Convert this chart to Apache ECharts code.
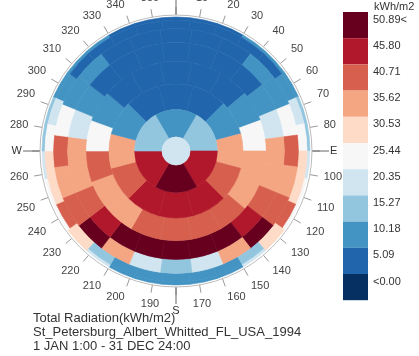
<!DOCTYPE html>
<html>
<head>
<meta charset="utf-8">
<script src="https://cdn.jsdelivr.net/npm/echarts@6/dist/echarts.min.js"></script>
<style>
  html, body { margin: 0; padding: 0; background: #fff; }
  #chart { width: 419px; height: 356px; }
</style>
</head>
<body>
<div id="chart"></div>
<script>
// Tregenza sky patches: altitude bands (deg) from horizon up to zenith
const ringAltitudes = [0, 12, 24, 36, 48, 60, 72, 84, 90]
const ringCounts = [30, 30, 24, 24, 18, 12, 6, 1]

// total radiation per patch (kWh/m2), azimuth order clockwise from north
const ring0 = [8, 8, 8, 13, 13, 13, 18, 18, 23, 28, 28, 33, 23, 13, 13, 13, 13, 13, 23, 33, 28, 28, 23, 18, 18, 13, 13, 13, 8, 8]
const ring1 = [8, 8, 8, 8, 8, 13, 23, 28, 33, 33, 43, 33, 18, 13, 13, 13, 13, 13, 18, 33, 43, 33, 33, 28, 23, 13, 8, 8, 8, 8]
const ring2 = [8, 8, 8, 13, 13, 28, 43, 38, 43, 54, 38, 23, 18, 23, 38, 54, 43, 38, 43, 28, 13, 13, 8, 8]
const ring3 = [8, 8, 8, 8, 13, 23, 38, 38, 43, 48, 54, 54, 54, 54, 54, 48, 43, 38, 38, 23, 13, 8, 8, 8]
const ring4 = [8, 8, 8, 13, 28, 38, 38, 43, 43, 43, 43, 38, 38, 43, 28, 13, 8, 8]
const ring5 = [8, 8, 13, 38, 43, 48, 48, 48, 43, 38, 13, 8]
const ring6 = [13, 18, 48, 54, 48, 18]
const zenith = [23]

// legend
const legendBreaks = [5.09, 10.18, 15.27, 20.35, 25.44, 30.53, 35.62, 40.71, 45.80, 50.89]
const legendLabels = ['<0.00', '5.09', '10.18', '15.27', '20.35', '25.44', '30.53', '35.62', '40.71', '45.80', '50.89<']
const legendColors = ['#053061', '#2166ac', '#4393c3', '#92c5de', '#d1e5f0', '#f7f7f7',
  '#fddbc7', '#f4a582', '#d6604d', '#b2182b', '#67001f']

const directions = { 0: 'N', 90: 'E', 180: 'S', 270: 'W' }

const rings = [ring0, ring1, ring2, ring3, ring4, ring5, ring6, zenith]
const patches = []
rings.forEach((vals, i) => {
  const step = 360 / ringCounts[i]
  // orthographic dome: radius = cos(altitude)
  const rOut = Math.cos(ringAltitudes[i] * Math.PI / 180)
  const rIn = Math.cos(ringAltitudes[i + 1] * Math.PI / 180)
  vals.forEach((v, k) => {
    const a0 = k * step - step / 2
    patches.push([rIn, rOut, a0, a0 + step, v])
  })
})

const pieces = legendColors.map((color, i) => {
  const p = { color: color, label: legendLabels[i] + '\n' }
  if (i > 0) p.gte = legendBreaks[i - 1]
  if (i < legendBreaks.length) p.lt = legendBreaks[i]
  return p
})

const renderPatch = (params, api) => {
  const p0 = api.coord([api.value(0), api.value(2)])
  const p1 = api.coord([api.value(1), api.value(3)])
  const color = api.visual('color')
  return {
    type: 'sector',
    shape: {
      cx: params.coordSys.cx,
      cy: params.coordSys.cy,
      r0: p0[2],
      r: p1[2],
      startAngle: -p0[3],
      endAngle: -p1[3],
      clockwise: true
    },
    style: { fill: color, stroke: color, lineWidth: 0.6 }
  }
}

const chart = echarts.init(document.getElementById('chart'))
const option = {
  animation: false,
  textStyle: { fontFamily: 'Liberation Sans, Arial, sans-serif' },
  title: [
    {
      text: 'Total Radiation(kWh/m2)\nSt_Petersburg_Albert_Whitted_FL_USA_1994\n1 JAN 1:00 - 31 DEC 24:00',
      left: 28,
      top: 306,
      textStyle: { fontSize: 13, fontWeight: 'normal', color: '#333', lineHeight: 14 }
    },
    {
      text: 'kWh/m2',
      left: 369,
      top: -4,
      textStyle: { fontSize: 11, fontWeight: 'normal', color: '#333' }
    }
  ],
  polar: [
    { center: [176, 151], radius: 136 },
    { center: [176, 151], radius: 136 }
  ],
  radiusAxis: [
    { polarIndex: 0, type: 'value', min: 0, max: 1.015, show: false },
    { polarIndex: 1, type: 'value', min: 0, max: 1, show: false }
  ],
  angleAxis: [
    {
      polarIndex: 0,
      type: 'value',
      min: 0,
      max: 360,
      interval: 10,
      startAngle: 90,
      clockwise: true,
      axisLine: { lineStyle: { color: '#bbbbbb', width: 1 } },
      axisTick: { length: 8, lineStyle: { color: '#999' } },
      axisLabel: {
        margin: 14,
        fontSize: 11,
        color: '#444',
        formatter: v => (v % 90 === 0 ? '' : String(v))
      },
      splitLine: { show: false }
    },
    {
      polarIndex: 1,
      type: 'value',
      min: 0,
      max: 360,
      interval: 90,
      startAngle: 90,
      clockwise: true,
      axisLine: { show: false },
      axisTick: { length: 17, lineStyle: { color: '#666' } },
      axisLabel: {
        margin: 18,
        fontSize: 11,
        color: '#333',
        formatter: v => directions[v] || ''
      },
      splitLine: { show: false }
    }
  ],
  visualMap: {
    type: 'piecewise',
    seriesIndex: 0,
    dimension: 4,
    orient: 'vertical',
    align: 'left',
    left: 328,
    top: -3,
    itemWidth: 25,
    itemHeight: 26.2,
    itemGap: 0,
    itemSymbol: 'rect',
    textGap: 5,
    textStyle: { fontSize: 11, color: '#333' },
    pieces: pieces
  },
  series: [
    {
      type: 'custom',
      coordinateSystem: 'polar',
      polarIndex: 0,
      renderItem: renderPatch,
      data: patches
    }
  ]
}
chart.setOption(option)
</script>
</body>
</html>
